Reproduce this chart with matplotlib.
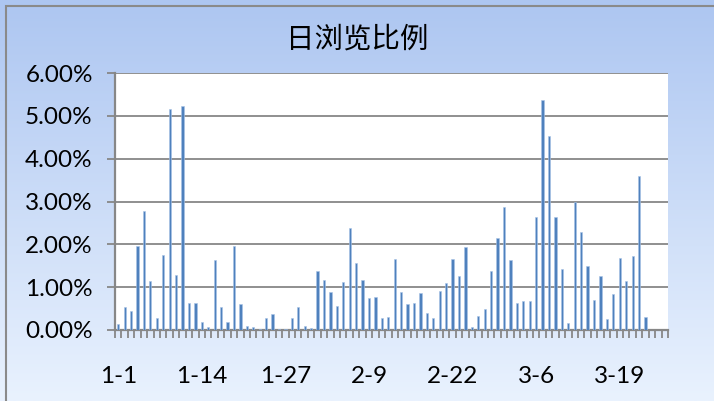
import numpy as np
import matplotlib.pyplot as plt
from matplotlib.patches import Rectangle
from matplotlib.colors import LinearSegmentedColormap
from matplotlib.ticker import FuncFormatter, MultipleLocator

plt.rcParams['font.family'] = ['Lato', 'Noto Sans CJK SC', 'DejaVu Sans']

# 日浏览比例 (%), 1-1 .. 3-26
jan = [0.13, 0.54, 0.45, 1.97, 2.78, 1.14, 0.28, 1.75, 5.15, 1.28,
       5.24, 0.63, 0.64, 0.19, 0.07, 1.63, 0.54, 0.19, 1.97, 0.60,
       0.10, 0.08, 0.02, 0.28, 0.37, 0.02, 0.02, 0.28, 0.54, 0.09,
       0.05]
feb = [1.38, 1.16, 0.89, 0.55, 1.11, 2.38, 1.56, 1.16, 0.75, 0.78,
       0.28, 0.31, 1.66, 0.89, 0.61, 0.62, 0.86, 0.40, 0.28, 0.91,
       1.10, 1.66, 1.25, 1.94, 0.07, 0.32, 0.49, 1.37, 2.15]
mar = [2.87, 1.63, 0.64, 0.68, 0.68, 2.63, 5.36, 4.54, 2.63, 1.43,
       0.16, 2.99, 2.28, 1.49, 0.70, 1.25, 0.26, 0.84, 1.67, 1.14,
       1.73, 3.59, 0.31, 0.0, 0.0, 0.0]
values = jan + feb + mar
days = [f"1-{d}" for d in range(1, 32)] + [f"2-{d}" for d in range(1, 30)] + \
       [f"3-{d}" for d in range(1, 27)]

fig = plt.figure(figsize=(7.14, 4.01), dpi=100)

# gradient background with frame
bg = fig.add_axes([0, 0, 1, 1], zorder=-10)
grad = np.linspace(0, 1, 256).reshape(-1, 1)
cmap = LinearSegmentedColormap.from_list('bg', ['#ADC6F1', '#E9F2FE'])
bg.imshow(grad, aspect='auto', cmap=cmap, extent=[0, 1, 0, 1])
bg.add_patch(Rectangle((6 / 714, -0.1), 1.2, 1 - 6 / 401 + 0.1,
                       fill=False, edgecolor='#8A8A8A', lw=1.5))
bg.set_xlim(0, 1)
bg.set_ylim(0, 1)
bg.axis('off')

ax = fig.add_axes([115 / 714, 1 - 330 / 401, 553 / 714, 257 / 401])
ax.set_facecolor('white')
x = np.arange(len(values)) + 0.5
ax.bar(x, values, width=0.35, color='#4F81BD', edgecolor='#A9C4E6',
       linewidth=0.4, zorder=3)

ax.set_xlim(0, len(values))
ax.set_ylim(0, 6)
ax.yaxis.set_major_locator(MultipleLocator(1))
ax.yaxis.set_major_formatter(FuncFormatter(lambda v, p: f"{v:.2f}%"))
ax.grid(axis='y', color='#878787', lw=1.3, zorder=1)

ax.set_xticks(x[::13])
ax.set_xticklabels(days[::13])
ax.set_xticks(np.arange(len(values) + 1), minor=True)
ax.tick_params(axis='x', which='major', length=0, pad=26, labelsize=17.5)
ax.tick_params(axis='x', which='minor', length=6, width=1.3, color='#878787')
ax.tick_params(axis='y', length=6, width=1.3, color='#878787', pad=10,
               labelsize=17.5)

for s in ['top', 'right']:
    ax.spines[s].set_visible(False)
for s in ['left', 'bottom']:
    ax.spines[s].set_color('#878787')
    ax.spines[s].set_linewidth(1.6)

fig.text(0.5, 1 - 40 / 401, "日浏览比例", ha='center', va='center',
         fontsize=20.5, family=['Noto Sans CJK SC', 'DejaVu Sans'])

fig.savefig('out.png', dpi=100)
